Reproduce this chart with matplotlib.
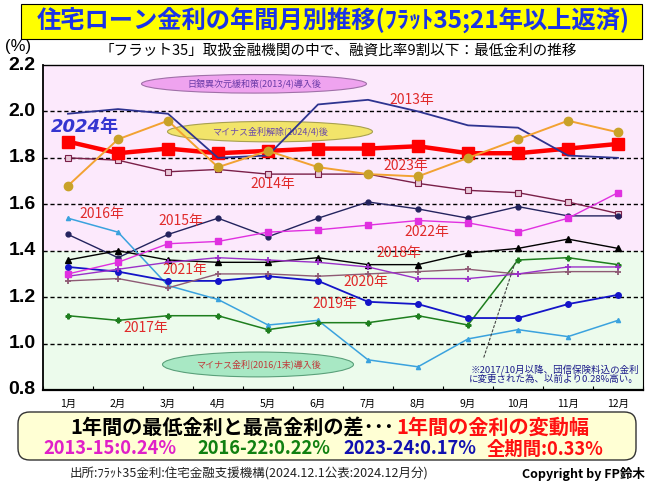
import matplotlib
matplotlib.use("Agg")
import matplotlib.pyplot as plt
from matplotlib.patches import Ellipse, Rectangle, FancyBboxPatch

plt.rcParams['font.family'] = ['Noto Sans CJK JP', 'DejaVu Sans']

months = ["1月", "2月", "3月", "4月", "5月", "6月", "7月", "8月", "9月", "10月", "11月", "12月"]
x = list(range(1, 13))

r2013 = [1.99, 2.01, 1.99, 1.80, 1.81, 2.03, 2.05, 2.00, 1.94, 1.93, 1.81, 1.80]
r2014 = [1.80, 1.79, 1.74, 1.75, 1.73, 1.73, 1.73, 1.69, 1.66, 1.65, 1.61, 1.56]
r2015 = [1.47, 1.37, 1.47, 1.54, 1.46, 1.54, 1.61, 1.58, 1.54, 1.59, 1.55, 1.55]
r2016 = [1.54, 1.48, 1.25, 1.19, 1.08, 1.10, 0.93, 0.90, 1.02, 1.06, 1.03, 1.10]
r2017 = [1.12, 1.10, 1.12, 1.12, 1.06, 1.09, 1.09, 1.12, 1.08, 1.36, 1.37, 1.34]
r2018 = [1.36, 1.40, 1.36, 1.35, 1.35, 1.37, 1.34, 1.34, 1.39, 1.41, 1.45, 1.41]
r2019 = [1.33, 1.31, 1.27, 1.27, 1.29, 1.27, 1.18, 1.17, 1.11, 1.11, 1.17, 1.21]
r2020 = [1.27, 1.28, 1.24, 1.30, 1.30, 1.29, 1.30, 1.31, 1.32, 1.30, 1.31, 1.31]
r2021 = [1.29, 1.32, 1.35, 1.37, 1.36, 1.35, 1.33, 1.28, 1.28, 1.30, 1.33, 1.33]
r2022 = [1.30, 1.35, 1.43, 1.44, 1.48, 1.49, 1.51, 1.53, 1.52, 1.48, 1.54, 1.65]
r2023 = [1.68, 1.88, 1.96, 1.76, 1.83, 1.76, 1.73, 1.72, 1.80, 1.88, 1.96, 1.91]
r2024 = [1.87, 1.82, 1.84, 1.82, 1.83, 1.84, 1.84, 1.85, 1.82, 1.82, 1.84, 1.86]

yticks = [0.8, 1.0, 1.2, 1.4, 1.6, 1.8, 2.0, 2.2]

W, H = 650, 487
fig = plt.figure(figsize=(6.5, 4.87), dpi=100)
fig.patch.set_facecolor('white')

def fx(px):
    return px / W

def fy(py):
    return 1 - py / H

ax = fig.add_axes([fx(43), fy(390), (643 - 43) / W, (390 - 65) / H])
ax.set_xlim(0.5, 12.5)
ax.set_ylim(0.8, 2.2)

# background bands
ax.axhspan(1.4, 2.2, color='#FCE9FC', zorder=0, lw=0)
ax.axhspan(0.8, 1.4, color='#ECFBEC', zorder=0, lw=0)
for yv in [1.0, 1.2, 1.4, 1.6, 1.8, 2.0]:
    ax.axhline(yv, color='black', ls=(0, (3, 2)), lw=1.0, zorder=1)

# ellipses
def ell(cx, cy, w, h, fc, ec, txt, tc):
    e = Ellipse((cx, cy), w, h, facecolor=fc, edgecolor=ec, lw=0.8, zorder=2)
    ax.add_patch(e)
    ax.text(cx, cy, txt, ha='center', va='center', fontsize=6.5, color=tc, zorder=3)

ell(4.72, 2.119, 4.5, 0.08, '#EFA3EF', '#A070A8', "日銀異次元緩和策(2013/4)導入後", '#6A3AA8')
ell(5.04, 1.913, 4.1, 0.088, '#F2E46A', '#A8A050', "マイナス金利解除(2024/4)後", '#6A4AAA')
ell(4.8, 0.910, 3.82, 0.107, '#A8E8C4', '#5AA07A', "マイナス金利(2016/1末)導入後", '#C03838')

# series
ax.plot(x, r2014, color='#7A1F48', lw=1.0, marker='s', ms=4, mfc='#E8C8D8', mec='#7A1F48', mew=0.8, zorder=4)
ax.plot(x, r2015, color='#23235E', lw=1.0, marker='o', ms=3.5, zorder=4)
ax.plot(x, r2016, color='#3AA2DE', lw=1.1, marker='^', ms=3, zorder=4)
ax.plot(x, r2017, color='#1E7E1E', lw=1.1, marker='P', ms=3.5, zorder=4)
ax.plot(x, r2018, color='black', lw=1.0, marker='^', ms=4, zorder=4)
ax.plot(x, r2019, color='#1414C8', lw=1.3, marker='o', ms=4, zorder=4)
ax.plot(x, r2020, color='#8E5A74', lw=1.0, marker='+', ms=5, mew=1.3, zorder=4)
ax.plot(x, r2021, color='#9A30C8', lw=1.0, marker='+', ms=5, mew=1.3, zorder=4)
ax.plot(x, r2022, color='#E030E0', lw=1.0, marker='s', ms=4, zorder=4)
ax.plot(x, r2024, color='#FF0000', lw=3.2, marker='s', ms=8, zorder=5)
ax.plot(x, r2013, color='#2E3390', lw=1.3, zorder=5.5)
ax.plot(x, r2023, color='#F2A232', lw=1.4, marker='o', ms=6, mfc='#C9A228', mec='#C9A228', zorder=6)

# year labels
red = '#E02A2A'
labels = [("2013年", 7.88, 2.05), ("2014年", 5.1, 1.686), ("2023年", 7.76, 1.767),
          ("2016年", 1.68, 1.557), ("2015年", 3.26, 1.527), ("2022年", 8.18, 1.48),
          ("2018年", 7.62, 1.39), ("2021年", 3.34, 1.317), ("2020年", 6.96, 1.266),
          ("2019年", 6.34, 1.17), ("2017年", 2.56, 1.069)]
for t, xx, yy in labels:
    ax.text(xx, yy, t, ha='center', va='center', fontsize=10, color=red, zorder=7)
ax.text(1.34, 1.934, "2024年", ha='center', va='center', fontsize=13, color='#3535D0',
        fontweight='bold', style='italic', family=['DejaVu Sans', 'Noto Sans CJK JP'], zorder=7)

# note
ax.annotate("", xy=(9.95, 1.355), xytext=(9.3, 0.93),
            arrowprops=dict(arrowstyle='-', ls=(0, (2, 2)), color='#444444', lw=0.8), zorder=6)
ax.text(12.42, 0.868, "※2017/10月以降、団信保険料込の金利\nに変更された為、以前より0.28%高い。",
        ha='right', va='center', fontsize=6.8, color='#1A1A8A', linespacing=1.0, zorder=7)

# axes styling
ax.set_xticks([i + 0.5 for i in range(0, 13)], minor=False)
ax.set_xticklabels([])
ax.tick_params(axis='x', direction='in', length=3, width=0.8)
ax.set_yticks([])
ax.spines['left'].set_linewidth(1.3)
ax.spines['right'].set_linewidth(0.8)
ax.spines['bottom'].set_linestyle((0, (1, 1)))
ax.spines['bottom'].set_linewidth(1.6)
ax.spines['top'].set_linestyle((0, (1, 1)))
ax.spines['top'].set_linewidth(1.0)

for i, m in enumerate(months):
    ax.text(i + 1, 0.74, m, ha='center', va='center', fontsize=7.5, color='black')
for yv in yticks:
    ax.text(-0.012, yv, f"{yv:.1f}", ha='right', va='center', fontsize=14, fontweight='bold',
            family=['Liberation Sans', 'DejaVu Sans'], transform=ax.get_yaxis_transform())

fig.text(fx(18), fy(47), "(%)", ha='center', va='center', fontsize=12, family=['Liberation Sans'])

# title
fig.patches.append(Rectangle((fx(21), fy(39)), fx(642 - 21), (39 - 4) / H, transform=fig.transFigure,
                             facecolor='#FFFF00', edgecolor='black', lw=0.8, zorder=0))
fig.text(fx(333), fy(21), "住宅ローン金利の年間月別推移(ﾌﾗｯﾄ35;21年以上返済)", ha='center', va='center',
         fontsize=17.5, fontweight='bold', color='#1A33E6')

fig.text(fx(338), fy(51), "「フラット35」取扱金融機関の中で、融資比率9割以下：最低金利の推移",
         ha='center', va='center', fontsize=10.5, color='black')

# bottom box
fig.patches.append(FancyBboxPatch((fx(18), fy(460)), fx(636 - 18), (460 - 412) / H,
                                  boxstyle="round,pad=0,rounding_size=0.018", mutation_aspect=650 / 487,
                                  transform=fig.transFigure, facecolor='#FFFFD4', edgecolor='#333333', lw=1.0))
fig.text(fx(394), fy(427), "1年間の最低金利と最高金利の差･･･", ha='right', va='center',
         fontsize=14.5, fontweight='bold', color='black')
fig.text(fx(396), fy(427), "1年間の金利の変動幅", ha='left', va='center',
         fontsize=14.5, fontweight='bold', color='#FF1010')
fig.text(fx(43), fy(449), "2013-15:0.24%", ha='left', va='center', fontsize=13.2, fontweight='bold', color='#E020C8')
fig.text(fx(197), fy(449), "2016-22:0.22%", ha='left', va='center', fontsize=13.2, fontweight='bold', color='#108010')
fig.text(fx(343), fy(449), "2023-24:0.17%", ha='left', va='center', fontsize=13.2, fontweight='bold', color='#1010B0')
fig.text(fx(487), fy(449), "全期間:0.33%", ha='left', va='center', fontsize=13.2, fontweight='bold', color='#FF1010')

fig.text(fx(70), fy(474), "出所:ﾌﾗｯﾄ35金利:住宅金融支援機構(2024.12.1公表:2024.12月分)", ha='left', va='center',
         fontsize=9, color='#222222')
fig.text(fx(645), fy(474), "Copyright by FP鈴木", ha='right', va='center', fontsize=9, fontweight='bold',
         color='black')

fig.savefig("out.png", dpi=100)
